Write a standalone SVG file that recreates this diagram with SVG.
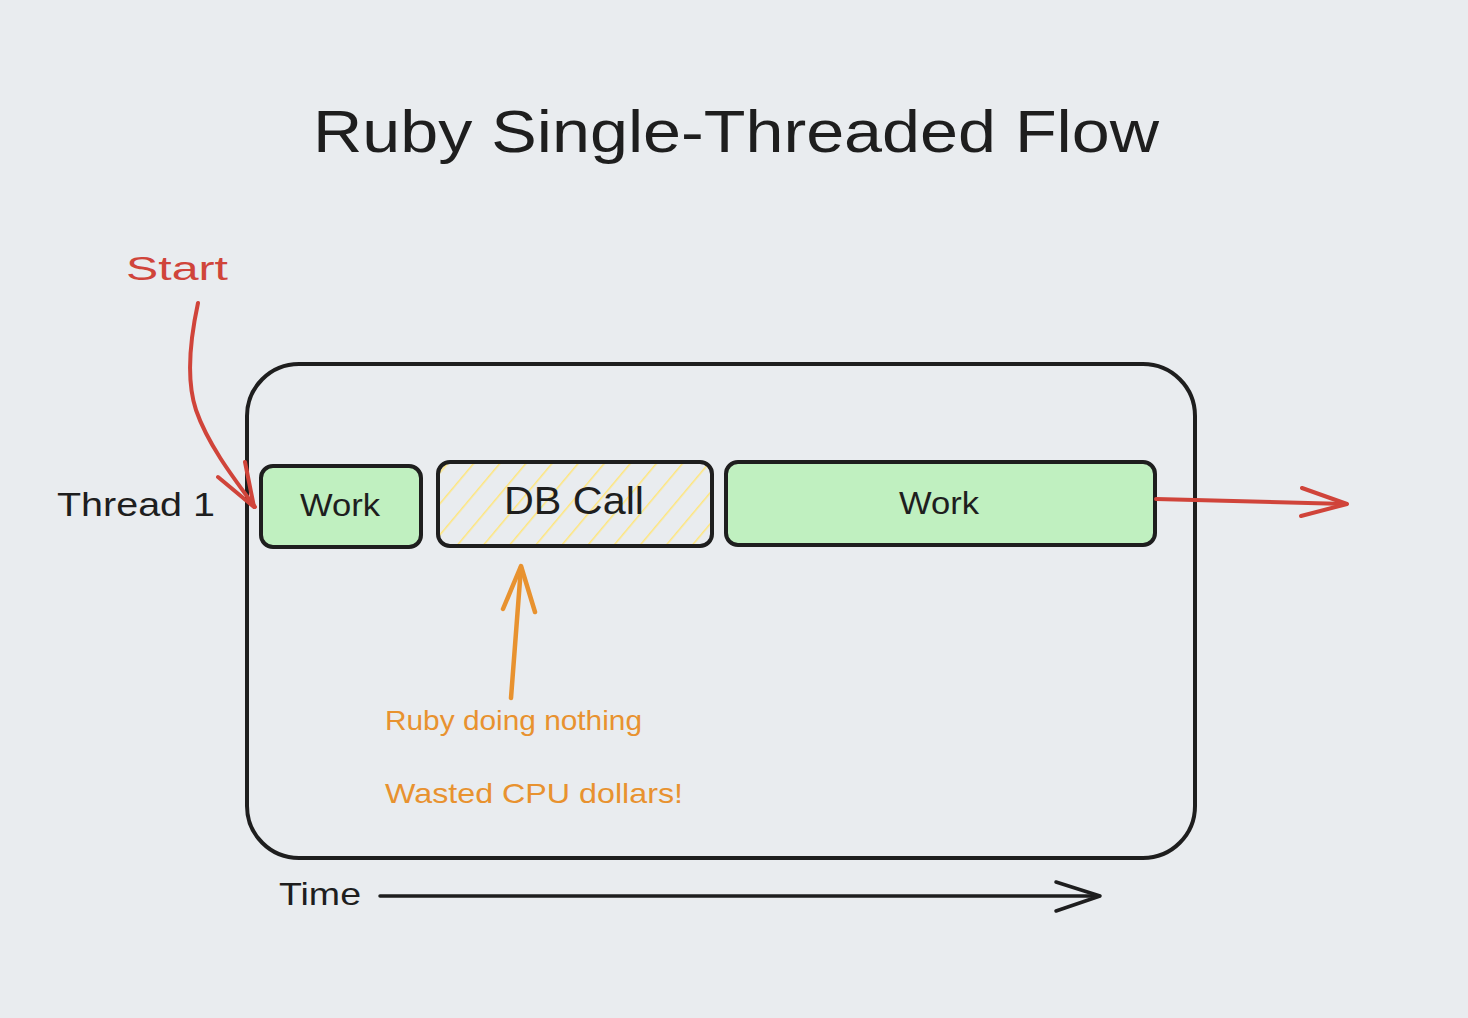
<svg xmlns="http://www.w3.org/2000/svg" width="1468" height="1018" viewBox="0 0 1468 1018">
<style>
.hand{font-family:"Liberation Sans","DejaVu Sans",sans-serif;}
.box{stroke:#1e1e1e;stroke-width:4;}
.ink{fill:#1e1e1e;}
.red{stroke:#d0443a;stroke-width:4;fill:none;stroke-linecap:round;stroke-linejoin:round;}
.org{stroke:#e8922f;stroke-width:4.5;fill:none;stroke-linecap:round;stroke-linejoin:round;}
.blk{stroke:#1e1e1e;stroke-width:3.5;fill:none;stroke-linecap:round;stroke-linejoin:round;}
</style>
<defs>
<pattern id="hatch" patternUnits="userSpaceOnUse" width="20" height="20" patternTransform="rotate(40)">
<line x1="0" y1="0" x2="0" y2="20" stroke="#ffe67a" stroke-width="3"/>
</pattern>
</defs>
<rect width="1468" height="1018" fill="#e9ecef"/>
<g id="title"><text class="hand ink" x="736" y="152" font-size="60" text-anchor="middle" textLength="846" lengthAdjust="spacingAndGlyphs">Ruby Single-Threaded Flow</text></g>
<g id="frame"><rect x="247" y="364" width="948" height="494" rx="52" fill="none" stroke="#1e1e1e" stroke-width="4"/></g>
<g id="thread-label"><text class="hand ink" x="57" y="516" font-size="34" textLength="158" lengthAdjust="spacingAndGlyphs">Thread 1</text></g>
<g id="work1"><rect class="box" x="261" y="466" width="160" height="81" rx="12" fill="#c0f0c0"/><text class="hand ink" x="340" y="516" font-size="32" text-anchor="middle" textLength="80" lengthAdjust="spacingAndGlyphs">Work</text></g>
<g id="dbcall"><rect x="438" y="462" width="274" height="84" rx="12" fill="url(#hatch)"/><rect class="box" x="438" y="462" width="274" height="84" rx="12" fill="none"/><text class="hand ink" x="574" y="514" font-size="38" text-anchor="middle" textLength="140" lengthAdjust="spacingAndGlyphs">DB Call</text></g>
<g id="work2"><rect class="box" x="726" y="462" width="429" height="83" rx="12" fill="#c0f0c0"/><text class="hand ink" x="939" y="514" font-size="32" text-anchor="middle" textLength="80" lengthAdjust="spacingAndGlyphs">Work</text></g>
<g id="start-label"><text class="hand" fill="#d0443a" x="126" y="280" font-size="34" textLength="102" lengthAdjust="spacingAndGlyphs">Start</text></g>
<g id="note"><text class="hand" fill="#e8922f" x="385" y="730" font-size="28" textLength="257" lengthAdjust="spacingAndGlyphs">Ruby doing nothing</text><text class="hand" fill="#e8922f" x="385" y="803" font-size="28" textLength="298" lengthAdjust="spacingAndGlyphs">Wasted CPU dollars!</text></g>
<g id="time-label"><text class="hand ink" x="279" y="905" font-size="32" textLength="82" lengthAdjust="spacingAndGlyphs">Time</text></g>
<g id="connectors">
<path class="red" d="M198 303 C190 340 186 380 196 410 C208 445 235 480 255 507"/>
<path class="red" d="M218 477 L254 507 L245 462"/>
<path class="red" d="M1156 499 L1346 504"/>
<path class="red" d="M1302 488 L1347 504 L1301 516"/>
<path class="org" d="M511 698 L521 567"/>
<path class="org" d="M503 609 L521 566 L535 612"/>
<path class="blk" d="M380 896 L1099 896"/>
<path class="blk" d="M1056 882 L1100 896 L1056 911"/>
</g>
</svg>
